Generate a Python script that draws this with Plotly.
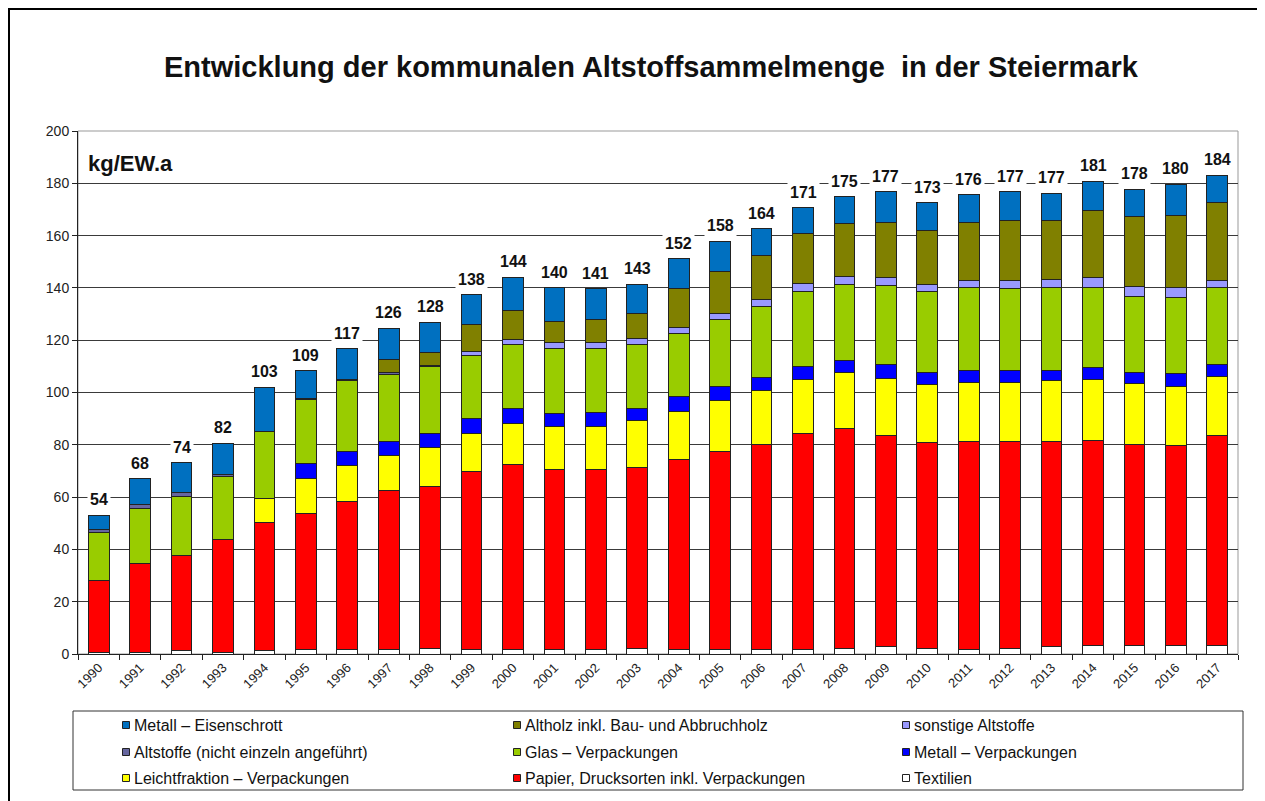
import plotly.graph_objects as go

years = [str(y) for y in range(1990, 2018)]

textilien = [0.4, 0.5, 1.2, 0.5, 1.4, 1.8, 1.8, 1.8, 2.2, 1.8, 1.8, 1.8, 1.8, 2.0,
             1.8, 1.8, 1.8, 1.8, 2.2, 2.7, 2.0, 1.8, 2.2, 2.7, 3.1, 3.1, 3.1, 3.1]
papier = [27.9, 34.2, 36.3, 43.4, 48.7, 51.9, 56.5, 60.8, 61.9, 68.1, 70.8, 68.8, 68.8, 69.3,
          72.6, 75.7, 78.4, 82.5, 84.1, 81.0, 78.7, 79.3, 78.9, 78.4, 78.7, 77.1, 76.7, 80.3]
leicht = [0, 0, 0, 0, 9.5, 13.6, 13.6, 13.4, 14.7, 14.4, 15.7, 16.3, 16.4, 18.0,
          18.5, 19.6, 20.5, 20.7, 21.3, 21.8, 22.2, 22.8, 22.8, 23.3, 23.0, 23.3, 22.6, 22.7]
metall_verp = [0, 0, 0, 0, 0, 5.4, 5.6, 5.4, 5.5, 5.6, 5.6, 5.1, 5.5, 4.6,
               5.4, 5.1, 5.0, 4.9, 4.6, 5.3, 4.8, 4.4, 4.4, 4.2, 4.7, 4.1, 4.7, 4.8]
glas = [18.0, 21.1, 22.9, 23.8, 25.6, 24.8, 26.9, 25.3, 25.7, 24.3, 24.6, 24.7, 24.2, 24.6,
        24.4, 25.6, 27.0, 28.8, 29.1, 30.2, 31.0, 31.7, 31.4, 31.4, 30.5, 29.3, 29.3, 29.1]
altstoffe_ne = [1.3, 1.2, 1.3, 1.1, 0, 0.3, 0.4, 1.1, 0.4, 0, 0, 0, 0, 0,
                0, 0, 0, 0, 0, 0, 0, 0, 0, 0, 0, 0, 0, 0]
sonstige = [0, 0, 0, 0, 0, 0, 0, 0, 0, 1.5, 1.9, 2.4, 2.3, 2.3,
            2.2, 2.6, 2.8, 2.8, 3.2, 3.1, 2.6, 2.8, 3.1, 3.2, 4.1, 3.8, 3.6, 2.8]
altholz = [0, 0, 0, 0, 0, 0, 0, 4.9, 5.0, 10.2, 10.9, 8.1, 9.0, 9.5,
           15.0, 16.0, 16.9, 19.2, 20.2, 20.8, 20.7, 22.4, 22.8, 22.7, 25.6, 26.6, 27.7, 29.8]
eisenschrott = [5.4, 10.0, 11.5, 11.7, 16.8, 10.5, 11.9, 11.9, 11.5, 11.5, 12.8, 12.8, 11.7, 11.1,
                11.3, 11.5, 10.2, 10.0, 10.1, 11.8, 10.6, 10.4, 11.1, 10.3, 11.0, 10.4, 12.0, 10.5]
total_labels = [54, 68, 74, 82, 103, 109, 117, 126, 128, 138, 144, 140, 141, 143,
                152, 158, 164, 171, 175, 177, 173, 176, 177, 177, 181, 178, 180, 184]

series = [
    ("Textilien", textilien, "#FFFFFF"),
    ("Papier, Drucksorten inkl. Verpackungen", papier, "#FF0000"),
    ("Leichtfraktion – Verpackungen", leicht, "#FFFF00"),
    ("Metall – Verpackungen", metall_verp, "#0000FF"),
    ("Glas – Verpackungen", glas, "#99CC00"),
    ("Altstoffe (nicht einzeln angeführt)", altstoffe_ne, "#66669F"),
    ("sonstige Altstoffe", sonstige, "#9999FF"),
    ("Altholz inkl. Bau- und Abbruchholz", altholz, "#808000"),
    ("Metall – Eisenschrott", eisenschrott, "#0070C0"),
]

FONT = "Liberation Sans, Arial, sans-serif"
OFF = 8  # page body margin in the browser
W, H = 1265 - OFF, 801 - OFF
# plot area in reference pixel coordinates
RL, RR, RT, RB = 78, 1238, 131, 654
L, R, T, B = RL - OFF, RR - OFF, RT - OFF, RB - OFF


def px(xp):
    return (xp - RL) / (RR - RL)


def py(yp):
    return (RB - yp) / (RB - RT)


fig = go.Figure()
for name, vals, col in series:
    fig.add_trace(go.Bar(
        x=years, y=[v if v else None for v in vals], name=name,
        marker=dict(color=col, line=dict(color="#222222", width=1)),
        width=0.5, showlegend=False, hoverinfo="name+y"))

totals = [sum(s[1][i] for s in series) for i in range(len(years))]

annotations = []
for i, (tot, lab) in enumerate(zip(totals, total_labels)):
    annotations.append(dict(
        x=i, y=tot, xref="x", yref="y", text=f"<b>{lab}</b>", showarrow=False,
        yanchor="bottom", yshift=4, bgcolor="white", borderpad=2,
        font=dict(family=FONT, size=16, color="#111111")))

annotations.append(dict(
    x=px(86), y=py(163), xref="paper", yref="paper", text="<b>kg/EW.a</b>", showarrow=False,
    xanchor="left", yanchor="middle", font=dict(family=FONT, size=22, color="#111111")))

# title as an annotation
annotations.append(dict(
    x=px(651), y=py(67), xref="paper", yref="paper",
    text="<b>Entwicklung der kommunalen Altstoffsammelmenge  in der Steiermark</b>",
    showarrow=False, xanchor="center", yanchor="middle",
    font=dict(family=FONT, size=29, color="#111111")))

legend_order = [
    "Metall – Eisenschrott", "Altholz inkl. Bau- und Abbruchholz", "sonstige Altstoffe",
    "Altstoffe (nicht einzeln angeführt)", "Glas – Verpackungen", "Metall – Verpackungen",
    "Leichtfraktion – Verpackungen", "Papier, Drucksorten inkl. Verpackungen", "Textilien",
]
colors = {n: c for n, _, c in series}
col_x = [126, 517, 906]
row_y = [725, 752, 778]
shapes = []
for i, name in enumerate(legend_order):
    cx, cy = col_x[i % 3], row_y[i // 3]
    shapes.append(dict(type="rect", xref="paper", yref="paper",
                       x0=px(cx - 3.5), x1=px(cx + 3.5), y0=py(cy + 3.5), y1=py(cy - 3.5),
                       fillcolor=colors[name], line=dict(color="#222222", width=1)))
    annotations.append(dict(x=px(cx + 6), y=py(cy), xref="paper", yref="paper", text=name,
                            showarrow=False, xanchor="left", yanchor="middle",
                            font=dict(family=FONT, size=16, color="#111111")))

# legend frame
shapes.append(dict(type="rect", xref="paper", yref="paper",
                   x0=px(73), x1=px(1243), y0=py(790), y1=py(711),
                   line=dict(color="#333333", width=1)))
# plot area frame (gray right/top)
shapes.append(dict(type="rect", xref="paper", yref="paper", x0=0, x1=1, y0=0, y1=1,
                   line=dict(color="#999999", width=1), layer="below"))
# outer frame
shapes.append(dict(type="rect", xref="paper", yref="paper",
                   x0=px(9), x1=px(1300), y0=py(840), y1=py(9),
                   line=dict(color="#000000", width=2)))

fig.update_layout(
    width=W, height=H, barmode="stack",
    paper_bgcolor="white", plot_bgcolor="white",
    margin=dict(l=L, r=W - R, t=T, b=H - B, pad=0),
    font=dict(family=FONT, color="#222222"),
    annotations=annotations, shapes=shapes,
    showlegend=False,
)
fig.update_yaxes(range=[0, 200], dtick=20, showgrid=True, gridcolor="#3a3a3a", gridwidth=1,
                 showline=True, linecolor="#222222", linewidth=1,
                 ticks="outside", ticklen=5, tickcolor="#222222",
                 tickfont=dict(family=FONT, size=14, color="#222222"), zeroline=False)
fig.update_xaxes(type="category", range=[-0.5, len(years) - 0.5], autorange=False,
                 showgrid=False, showline=True, linecolor="#222222", linewidth=1,
                 ticks="outside", ticklen=5, tickcolor="#222222", tickson="boundaries",
                 tickangle=-45, tickfont=dict(family=FONT, size=13, color="#222222"))

fig.write_html("out.html")
